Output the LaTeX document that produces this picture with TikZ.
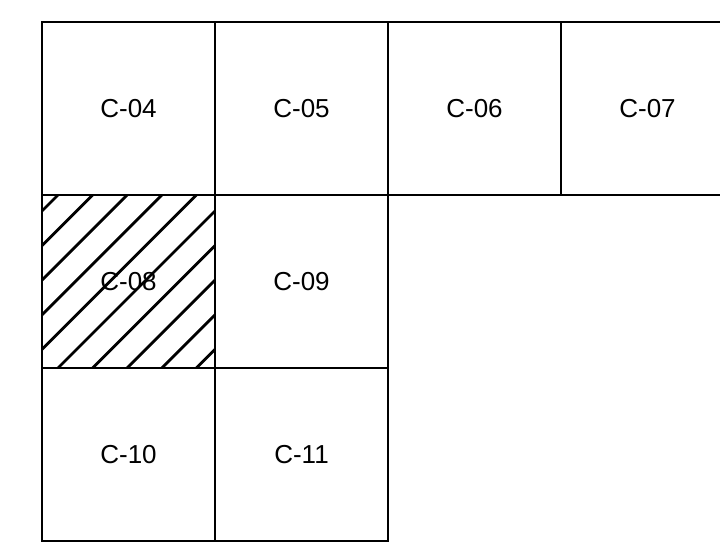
\documentclass[tikz,border=0pt]{standalone}
\usepackage{fontspec}
\setmainfont{Liberation Sans}
\begin{document}
\begin{tikzpicture}[x=1pt,y=1pt,
  cell/.style={draw, line width=2.4pt, minimum size=173pt, inner sep=0pt,
    font=\fontsize{26}{30}\selectfont, anchor=center},
  hatchline/.style={line width=2.8pt}]
\useasboundingbox (0,0) rectangle (720,552);
\clip (0,0) rectangle (720,552);
\node[cell] (c04) at (128.5,443.5) {C-04};
\node[cell] (c05) at (301.5,443.5) {C-05};
\node[cell] (c06) at (474.5,443.5) {C-06};
\node[cell] (c07) at (647.5,443.5) {C-07};
\node[cell] (c08) at (128.5,270.5) {C-08};
\node[cell] (c09) at (301.5,270.5) {C-09};
\node[cell] (c10) at (128.5,97.5) {C-10};
\node[cell] (c11) at (301.5,97.5) {C-11};
\begin{scope}
  \clip ([shift={(1.2pt,1.2pt)}]c08.south west) rectangle ([shift={(-1.2pt,-1.2pt)}]c08.north east);
  \foreach \k in {0,...,9}
    \draw[hatchline] (0,{299-34.6*\k}) -- (400,{699-34.6*\k});
\end{scope}
\end{tikzpicture}
\end{document}
